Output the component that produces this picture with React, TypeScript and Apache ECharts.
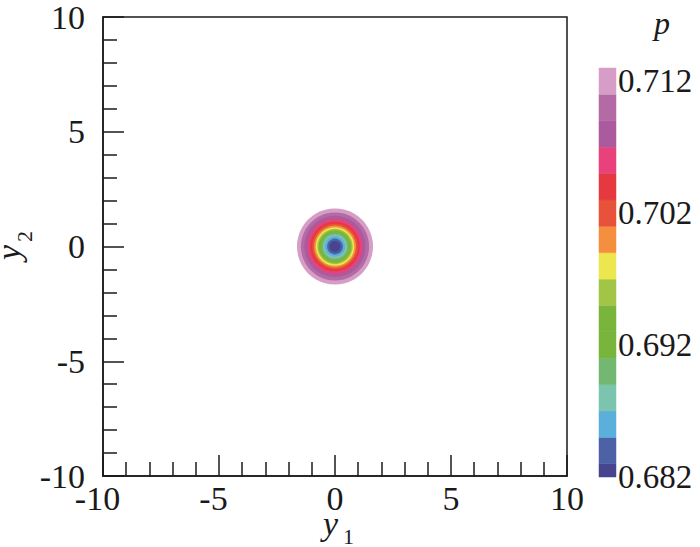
import React, { useEffect, useRef } from "react";
import * as echarts from "echarts";

// ---- data ----
const xTicks = [-10, -5, 0, 5, 10];
const ringCenter = [0, 0];
// outer radius (in y-units) of each contour band, from outside to inside
const ringRadius = [1.64, 1.47, 1.32, 1.18, 1.07, 0.98, 0.9, 0.83, 0.76, 0.7, 0.64, 0.58, 0.52, 0.44, 0.34, 0.24];
const ringP = [0.712, 0.71, 0.708, 0.706, 0.704, 0.702, 0.7, 0.698, 0.696, 0.694, 0.692, 0.69, 0.688, 0.686, 0.684, 0.6825];
// contour level band edges (bottom to top) and colours
const levelEdges = [0.682, 0.683, 0.685, 0.687, 0.689, 0.691, 0.693, 0.695, 0.697, 0.699, 0.701, 0.703, 0.705, 0.707, 0.709, 0.711, 0.713];
const bandColors = [
  "#46458e", "#4c61a6", "#5bafdb", "#7bc5b0", "#72b872", "#79b53d", "#79b53d", "#a3c547",
  "#ece64f", "#f48f3d", "#e9523a", "#e5393f", "#e8417c", "#ab5b9d", "#b36aa5", "#d69ec6",
];
const colorbarTicks = [0.682, 0.692, 0.702, 0.712];

const FONT = "'Liberation Serif', 'Times New Roman', serif";
const INK = "#1a1a1a";

function colorFor(p: number): string {
  for (let i = 0; i < bandColors.length; i++) {
    if (p >= levelEdges[i] && p < levelEdges[i + 1]) return bandColors[i];
  }
  return p < levelEdges[0] ? bandColors[0] : bandColors[bandColors.length - 1];
}

export default function App() {
  const ref = useRef<HTMLDivElement>(null);
  useEffect(() => {
    if (!ref.current) return;
    const chart = echarts.init(ref.current, undefined, { renderer: "svg" });
    const ringData = ringRadius.map((r, i) => [r, ringP[i]]);
    const barData = bandColors.map((_, i) => [levelEdges[i], levelEdges[i + 1]]);
    const axisCommon = {
      type: "value" as const,
      min: xTicks[0],
      max: xTicks[xTicks.length - 1],
      interval: 5,
      axisLine: { show: true, onZero: false, lineStyle: { color: INK, width: 1.5 } },
      axisTick: { show: true, inside: true, length: 21, lineStyle: { color: INK, width: 1.5 } },
      minorTick: { show: true, splitNumber: 5, length: 14, lineStyle: { color: INK, width: 1.5 } },
      splitLine: { show: false },
      minorSplitLine: { show: false },
    };
    chart.setOption({
      animation: false,
      backgroundColor: "#ffffff",
      grid: [
        { left: 103, top: 13, width: 464, height: 463, show: true, borderColor: INK, borderWidth: 1.5, backgroundColor: "transparent" },
        { left: 599, top: 68, width: 17, height: 409 },
      ],
      xAxis: [
        {
          ...axisCommon,
          gridIndex: 0,
          axisLabel: {
            margin: 5,
            color: INK,
            fontFamily: FONT,
            fontSize: 34,
            formatter: (v: number) => (v < 0 ? `{n|${v}}` : `{p|${v}}`),
            rich: {
              n: { fontFamily: FONT, fontSize: 34, color: INK, padding: [0, 11, 0, 0] },
              p: { fontFamily: FONT, fontSize: 34, color: INK },
            },
          },
        },
        { type: "value", gridIndex: 1, min: 0, max: 1, show: false },
      ],
      yAxis: [
        {
          ...axisCommon,
          gridIndex: 0,
          axisLabel: { margin: 18, color: INK, fontFamily: FONT, fontSize: 34 },
        },
        {
          type: "value",
          gridIndex: 1,
          min: levelEdges[0],
          max: levelEdges[levelEdges.length - 1],
          position: "right",
          axisLine: { show: false },
          axisTick: { show: false },
          splitLine: { show: false },
          axisLabel: {
            customValues: colorbarTicks,
            margin: 2,
            color: INK,
            fontFamily: FONT,
            fontSize: 33,
            formatter: (v: number) => v.toFixed(3),
          },
        },
      ],
      series: [
        {
          type: "custom",
          xAxisIndex: 0,
          yAxisIndex: 0,
          data: ringData,
          clip: true,
          renderItem: (params: any, api: any) => {
            const r = api.value(0);
            const p = api.value(1);
            const c = api.coord(ringCenter);
            const e = api.coord([ringCenter[0] + r, ringCenter[1]]);
            return {
              type: "circle",
              shape: { cx: c[0], cy: c[1], r: Math.abs(e[0] - c[0]) },
              style: { fill: colorFor(p) },
            };
          },
        },
        {
          type: "custom",
          xAxisIndex: 1,
          yAxisIndex: 1,
          data: barData,
          renderItem: (params: any, api: any) => {
            const lo = api.value(0);
            const hi = api.value(1);
            const a = api.coord([0, hi]);
            const b = api.coord([1, lo]);
            return {
              type: "rect",
              shape: { x: a[0], y: a[1], width: b[0] - a[0], height: b[1] - a[1] },
              style: { fill: bandColors[params.dataIndex], stroke: bandColors[params.dataIndex], lineWidth: 0.5 },
            };
          },
        },
      ],
      graphic: [
        {
          type: "text",
          x: 323,
          y: 523,
          style: { text: "y", fontFamily: FONT, fontSize: 34, fontStyle: "italic", fill: INK, align: "left", verticalAlign: "middle" },
        },
        {
          type: "text",
          x: 343,
          y: 536,
          style: { text: "1", fontFamily: FONT, fontSize: 22, fill: INK, align: "left", verticalAlign: "middle" },
        },
        {
          type: "group",
          x: 20,
          y: 260,
          rotation: Math.PI / 2,
          children: [
            {
              type: "text",
              x: 0,
              y: -11.5,
              style: { text: "y", fontFamily: FONT, fontSize: 34, fontStyle: "italic", fill: INK, align: "left", verticalAlign: "middle" },
            },
            {
              type: "text",
              x: 18,
              y: 4.6,
              style: { text: "2", fontFamily: FONT, fontSize: 22, fill: INK, align: "left", verticalAlign: "middle" },
            },
          ],
        },
        {
          type: "text",
          x: 654,
          y: 23,
          style: { text: "p", fontFamily: FONT, fontSize: 32, fontStyle: "italic", fill: INK, align: "left", verticalAlign: "middle" },
        },
      ],
    });
    return () => chart.dispose();
  }, []);
  return <div ref={ref} style={{ position: "fixed", left: 0, top: 0, width: 700, height: 547 }} />;
}
